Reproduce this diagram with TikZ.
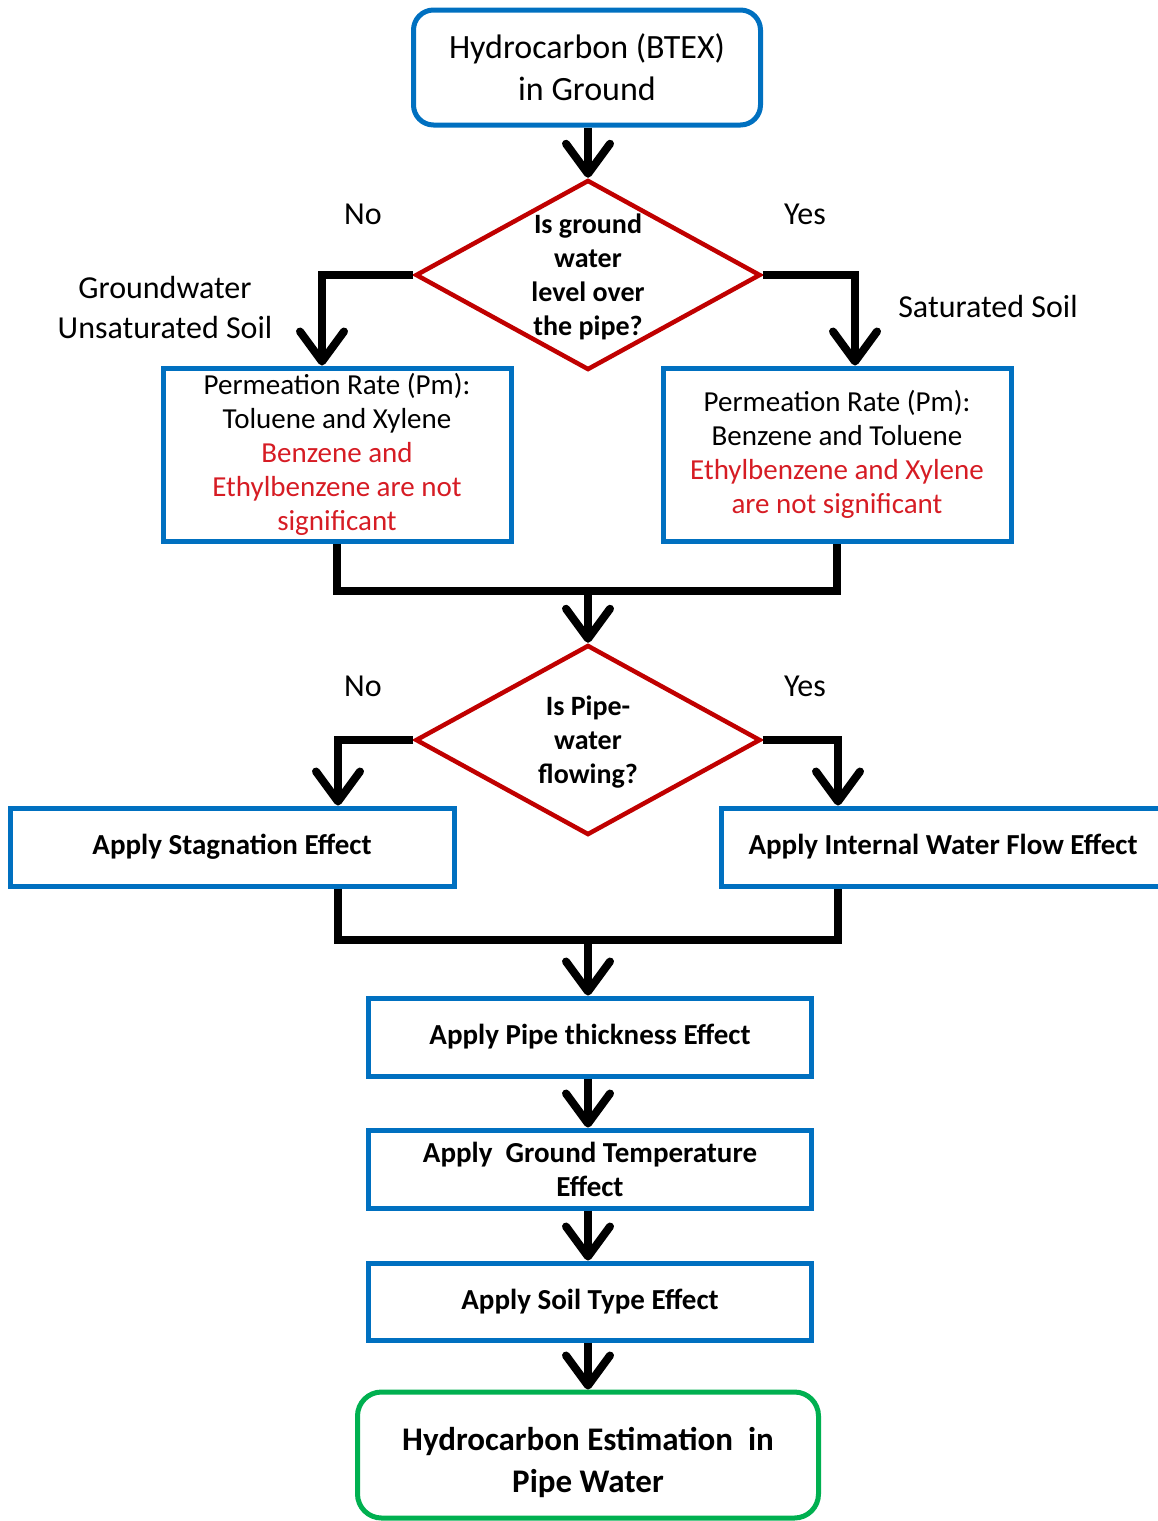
\documentclass[tikz,border=0pt]{standalone}
\usepackage{fontspec}
\setmainfont{Carlito}
\usetikzlibrary{arrows.meta,shapes.geometric}
\definecolor{boxblue}{RGB}{0,112,192}
\definecolor{dred}{RGB}{192,0,0}
\definecolor{tred}{RGB}{214,28,36}
\definecolor{fgreen}{RGB}{0,176,80}
\tikzset{
 bx/.style={draw=boxblue, line width=5pt, rectangle, inner sep=0pt, align=center, text=black},
 dec/.style={draw=dred, line width=4.5pt, diamond, inner sep=0pt, minimum width=345pt, minimum height=190pt},
 conn/.style={line width=8pt, black},
 arr/.style={conn, -{Straight Barb[length=30pt,width=44pt,round]}},
 lbl/.style={font=\fontsize{32}{40}\selectfont, align=center},
 dtxt/.style={font=\bfseries\fontsize{28}{34}\selectfont, align=center},
 btxt/.style={font=\bfseries\fontsize{29}{34}\selectfont},
 ptxt/.style={font=\fontsize{29}{34}\selectfont},
}
\begin{document}
\begin{tikzpicture}[x=1pt,y=-1pt]
\useasboundingbox (0,0) rectangle (1158,1521);
\clip (0,0) rectangle (1158,1521);

% nodes
\node[bx, rounded corners=20pt, minimum width=347pt, minimum height=115pt,
      font=\fontsize{34}{42}\selectfont] (top) at (587,67.5) {Hydrocarbon (BTEX)\\in Ground};

\node[dec] (d1) at (588,275) {};
\node[dtxt] (d1t) at (588,277) {Is ground\\water\\level over\\the pipe?};
\node[lbl] (no1) at (363,214) {No};
\node[lbl] (yes1) at (805,214) {Yes};
\node[lbl] (gw) at (165,308) {Groundwater\\Unsaturated Soil};
\node[lbl] (sat) at (988,307) {Saturated Soil};

\node[bx, ptxt, minimum width=348pt, minimum height=173pt] (pm1) at (337,454.5)
  {Permeation Rate (Pm):\\Toluene and Xylene\\\textcolor{tred}{Benzene and}\\\textcolor{tred}{Ethylbenzene are not}\\\textcolor{tred}{significant}};
\node[bx, ptxt, minimum width=348pt, minimum height=173pt] (pm2) at (837,454.5)
  {Permeation Rate (Pm):\\Benzene and Toluene\\\textcolor{tred}{Ethylbenzene and Xylene}\\\textcolor{tred}{are not significant}};

\coordinate (m1) at (588,591);

\node[dec] (d2) at (588,740) {};
\node[dtxt] (d2t) at (588,742) {Is Pipe-\\water\\flowing?};
\node[lbl] (no2) at (363,686) {No};
\node[lbl] (yes2) at (805,686) {Yes};

\node[bx, btxt, minimum width=444pt, minimum height=78pt] (stag) at (232,847) {Apply Stagnation Effect};
\node[bx, btxt, minimum width=444pt, minimum height=78pt] (flow) at (943,847) {Apply Internal Water Flow Effect};

\coordinate (m2) at (588,940);

\node[bx, btxt, minimum width=443pt, minimum height=78pt] (pipe) at (590,1037) {Apply Pipe thickness Effect};
\node[bx, btxt, minimum width=443pt, minimum height=78pt] (temp) at (590,1169) {Apply\ \ Ground Temperature\\Effect};
\node[bx, btxt, minimum width=443pt, minimum height=77pt] (soil) at (590,1301.5) {Apply Soil Type Effect};
\node[bx, draw=fgreen, rounded corners=24pt, minimum width=461pt, minimum height=126pt,
      label={[font=\bfseries\fontsize{33}{42}\selectfont, align=center, yshift=-7pt]center:{Hydrocarbon Estimation\ \ in\\Pipe Water}}] (fin) at (588,1455) {};

% connectors
\draw[arr] (top.south -| d1.north) -- (d1.north);
\draw[arr] (d1.west) -| ([xshift=-15pt]pm1.north);
\draw[arr] (d1.east) -| ([xshift=18pt]pm2.north);
\draw[conn] (pm1.south) |- (m1) -| (pm2.south);
\draw[arr] (m1) -- (d2.north);
\draw[arr] (d2.west) -| ([xshift=106pt]stag.north);
\draw[arr] (d2.east) -| ([xshift=-105pt]flow.north);
\draw[conn] ([xshift=106pt]stag.south) |- (m2) -| ([xshift=-105pt]flow.south);
\draw[arr] (m2) -- (m2 |- pipe.north);
\draw[arr] (pipe.south -| m2) -- (temp.north -| m2);
\draw[arr] (temp.south -| m2) -- (soil.north -| m2);
\draw[arr] (soil.south -| m2) -- (fin.north -| m2);
\end{tikzpicture}
\end{document}
